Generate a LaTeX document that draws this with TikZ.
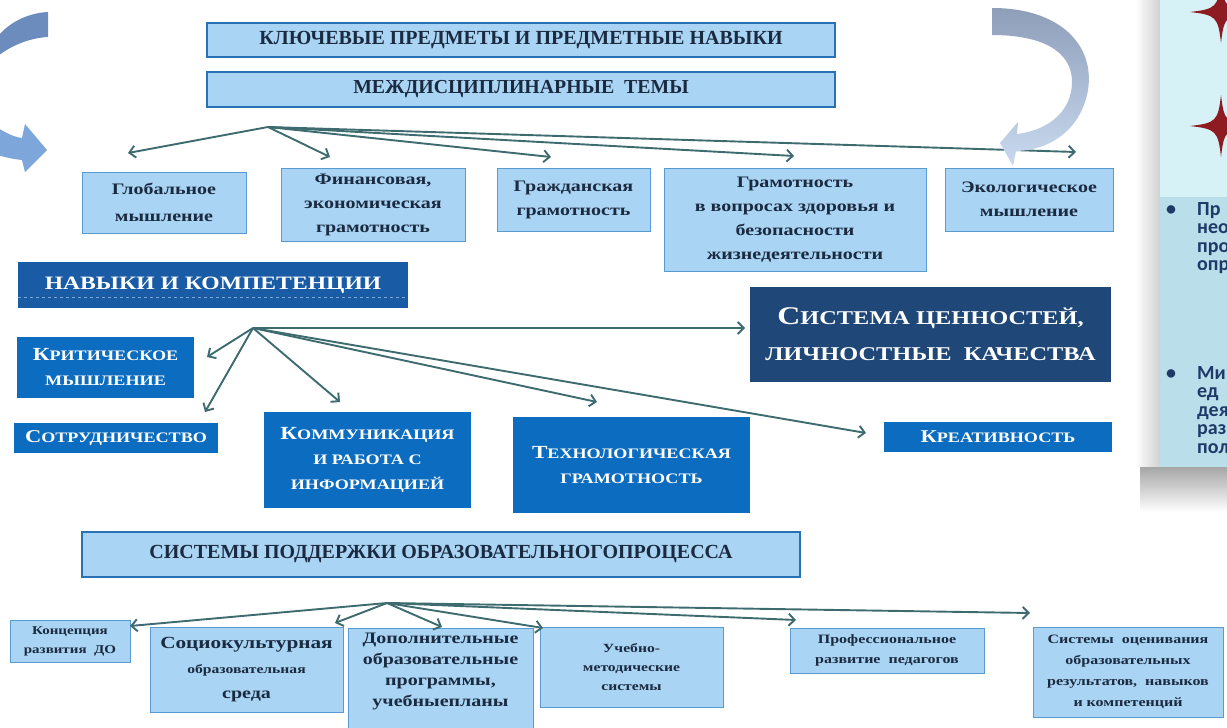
\documentclass[tikz,border=0pt]{standalone}
\usepackage{fontspec}
\setmainfont{Liberation Serif}
\newfontfamily\widefont[FakeStretch=1.25]{Liberation Serif}
\newfontfamily\panelfont{Carlito}
\usetikzlibrary{arrows.meta}

\definecolor{boxfill}{HTML}{AAD4F3}
\definecolor{boxline}{HTML}{5A9AD3}
\definecolor{bandline}{HTML}{2A70B4}
\definecolor{boxtext}{HTML}{1A2A40}
\definecolor{skillfill}{HTML}{0B6CC0}
\definecolor{headfill}{HTML}{1A5BA6}
\definecolor{valuefill}{HTML}{1F4778}
\definecolor{fancol}{HTML}{3E6B6F}
\definecolor{loopdark}{HTML}{6B8CBD}
\definecolor{looplight}{HTML}{7DA6DB}
\definecolor{swingtop}{HTML}{8E9EB9}
\definecolor{swingbottom}{HTML}{C9DAF0}
\definecolor{panelcyan}{HTML}{D6F2F6}
\definecolor{panelblue}{HTML}{BADFEA}
\definecolor{paneltext}{HTML}{1F3A68}
\definecolor{starred}{HTML}{8E1B22}

\newcommand{\initial}[2]{{\fontsize{#1}{#1}\selectfont #2}}

\begin{document}
\begin{tikzpicture}[x=1pt,y=-1pt,
    box/.style={
       rectangle,
       draw=boxline,
       fill=boxfill,
       line width=1pt,
       inner sep=2pt,
       outer sep=0pt,
       align=center,
       text=boxtext,
       anchor=north west
    },
    band/.style={box, draw=bandline, line width=2.5pt},
    skill/.style={
       rectangle,
       fill=skillfill,
       text=white,
       inner sep=2pt,
       outer sep=0pt,
       align=center,
       anchor=north west
    },
    value/.style={skill, fill=valuefill},
    fan/.style={draw=fancol, line width=1.9pt, ->},
    panel text/.style={text=paneltext, inner sep=0pt,
       font=\panelfont\bfseries\fontsize{20}{18.5}\selectfont},
    >={Straight Barb[length=6pt,width=12pt]}
  ]
  \useasboundingbox (0,0) rectangle (1227,728);

  % top bands
  \node[band, minimum width=628, minimum height=34,
        font=\bfseries\fontsize{20}{20}\selectfont] (keys) at (207,23)
        {КЛЮЧЕВЫЕ ПРЕДМЕТЫ И ПРЕДМЕТНЫЕ НАВЫКИ};
  \node[band, minimum width=628, minimum height=35,
        font=\bfseries\fontsize{19.8}{19.8}\selectfont] (cross) at (207,72)
        {МЕЖДИСЦИПЛИНАРНЫЕ\ \ ТЕМЫ};

  % themes
  \begin{scope}[every node/.append style={font=\widefont\bfseries\fontsize{16}{24}\selectfont}]
    \node[box, minimum width=164, minimum height=61] (glob) at (82,172)
          {Глобальное\\[3pt]мышление};
    \node[box, minimum width=184, minimum height=73] (fin) at (281,168)
          {Финансовая,\\экономическая\\грамотность};
    \node[box, minimum width=153, minimum height=63] (civ) at (497,168)
          {Гражданская\\грамотность};
    \node[box, minimum width=262, minimum height=103] (hlth) at (664,168)
          {Грамотность\\в вопросах здоровья и\\безопасности\\жизнедеятельности};
    \node[box, minimum width=168, minimum height=63] (eco) at (945,168)
          {Экологическое\\мышление};
  \end{scope}

  % skills
  \node[skill, fill=headfill, minimum width=390, minimum height=46,
        font=\widefont\bfseries\fontsize{18.9}{18.9}\selectfont] (skills) at (18,262)
        {НАВЫКИ И КОМПЕТЕНЦИИ};
  \draw[dashed, draw=looplight, line width=1pt]
        ([yshift=11pt]skills.south west) -- ([yshift=11pt]skills.south east);
  \begin{scope}[every node/.append style={font=\widefont\bfseries\fontsize{14.5}{25}\selectfont}]
    \node[skill, minimum width=177, minimum height=61] (crit) at (17,337)
          {\initial{18.5}{К}РИТИЧЕСКОЕ\\МЫШЛЕНИЕ};
    \node[skill, minimum width=204, minimum height=30] (coop) at (14,423)
          {\initial{18}{С}ОТРУДНИЧЕСТВО};
    \node[skill, minimum width=207, minimum height=96] (comm) at (264,412)
          {\initial{18.5}{К}ОММУНИКАЦИЯ\\И РАБОТА С\\ИНФОРМАЦИЕЙ};
    \node[skill, minimum width=237, minimum height=96] (tech) at (513,417)
          {\initial{18.5}{Т}ЕХНОЛОГИЧЕСКАЯ\\ГРАМОТНОСТЬ};
    \node[skill, minimum width=228, minimum height=30] (crea) at (884,422)
          {\initial{18}{К}РЕАТИВНОСТЬ};
  \end{scope}
  \node[value, minimum width=361, minimum height=95,
        font=\widefont\bfseries\fontsize{19.5}{36}\selectfont] (val) at (750,287)
        {\initial{25.5}{С}ИСТЕМА ЦЕННОСТЕЙ,\\ЛИЧНОСТНЫЕ\ \ КАЧЕСТВА};

  % support systems
  \node[band, minimum width=718, minimum height=45,
        font=\bfseries\fontsize{20}{20}\selectfont] (supp) at (82,532)
        {СИСТЕМЫ ПОДДЕРЖКИ ОБРАЗОВАТЕЛЬНОГОПРОЦЕССА};
  \node[box, minimum width=120, minimum height=42,
        font=\widefont\bfseries\fontsize{12}{19}\selectfont] (conc) at (10,620)
        {Концепция\\развития\ \ ДО};
  \node[box, minimum width=193, minimum height=85,
        font=\widefont\bfseries\fontsize{12.5}{25}\selectfont] (soc) at (150,627)
        {\initial{17}{Социокультурная}\\образовательная\\\initial{16}{среда}};
  \node[box, minimum width=185, minimum height=110,
        font=\widefont\bfseries\fontsize{16}{21}\selectfont] (add) at (348,628)
        {Дополнительные\\образовательные\\программы,\\учебныепланы\\[6pt]};
  \node[box, minimum width=183, minimum height=80,
        font=\widefont\bfseries\fontsize{12.5}{19}\selectfont] (uch) at (540,627)
        {Учебно-\\методические\\системы};
  \node[box, minimum width=194, minimum height=45,
        font=\widefont\bfseries\fontsize{12.8}{20}\selectfont] (prof) at (790,628)
        {Профессиональное\\развитие\ \ педагогов};
  \node[box, minimum width=190, minimum height=90,
        font=\widefont\bfseries\fontsize{12.8}{21}\selectfont] (sys) at (1033,627)
        {Системы\ \ оценивания\\образовательных\\результатов,\ \ навыков\\и компетенций};

  % fans
  \coordinate (fanA) at (268,127);
  \coordinate (fanB) at (253,328);
  \coordinate (fanC) at (387,603);
  \foreach \n/\a/\dx/\dy in {glob/north west/46/-19, fin/north west/49/-11,
      civ/north west/54/-11, hlth/north west/130/-12, eco/north west/131/-16}
    \draw[fan] (fanA) -- ([shift={(\dx,\dy)}]\n.\a);
  \foreach \n/\a/\dx/\dy in {crit/north east/13/20, coop/north east/-13/-11,
      comm/north west/76/-10, tech/north west/84/-15,
      val/north west/-5/41, crea/north west/-18/11}
    \draw[fan] (fanB) -- ([shift={(\dx,\dy)}]\n.\a);
  \foreach \n/\a/\dx/\dy in {conc/north east/0/6, soc/north east/-8/-4,
      add/north west/94/-1, uch/north west/3/1,
      prof/north west/6/-8, sys/north west/-3/-14}
    \draw[fan] (fanC) -- ([shift={(\dx,\dy)}]\n.\a);

  % loop arrows
  \fill[loopdark] (48,12) .. controls (28,13) and (10,22) .. (-2,36)
        -- (-2,56) .. controls (12,45) and (30,38) .. (48,37) -- cycle;
  \fill[looplight] (-2,128) .. controls (6,133) and (14,137) .. (22,138)
        -- (25,124) -- (47,150) -- (25,172) -- (22,160)
        .. controls (12,159) and (4,157) .. (-2,155) -- cycle;
  \shade[top color=swingtop, bottom color=swingbottom]
        (992,8) .. controls (1060,8) and (1095,45) .. (1088,90)
        .. controls (1082,125) and (1055,150) .. (1016,151)
        -- (1013,166) -- (1000,143) -- (1018,122) -- (1017,134)
        .. controls (1050,130) and (1072,110) .. (1072,82)
        .. controls (1072,50) and (1040,35) .. (992,35) -- cycle;

  % side panel
  \shade[left color=white, right color=black!18] (1135,0) rectangle (1160,467);
  \shade[top color=black!35, bottom color=white] (1140,467) rectangle (1227,512);
  \fill[panelcyan] (1160,0) rectangle (1227,197);
  \fill[panelblue] (1160,197) rectangle (1227,467);
  \foreach \cy in {12,126}
    \fill[starred] (1190,\cy) .. controls (1216,\cy-3) and (1218,\cy-5) .. (1221,\cy-31)
        .. controls (1224,\cy-5) and (1226,\cy-3) .. (1252,\cy)
        .. controls (1226,\cy+3) and (1224,\cy+5) .. (1221,\cy+31)
        .. controls (1218,\cy+5) and (1216,\cy+3) .. (1190,\cy) -- cycle;
  \begin{scope}
    \clip (1160,0) rectangle (1227,467);
    \node[panel text, anchor=base] (bul1) at (1171,215) {•};
    \node[panel text, anchor=base] (bul2) at (1171,379) {•};
    \foreach \t [count=\i] in {Пр,нео,про,опр}
      \node[panel text, anchor=base west] (pa\i) at (1197,{215+18.5*(\i-1)}) {\t};
    \foreach \t [count=\i] in {Ми,ед,дея,раз,пол}
      \node[panel text, anchor=base west] (pb\i) at (1197,{379+18.5*(\i-1)}) {\t};
  \end{scope}
\end{tikzpicture}
\end{document}
